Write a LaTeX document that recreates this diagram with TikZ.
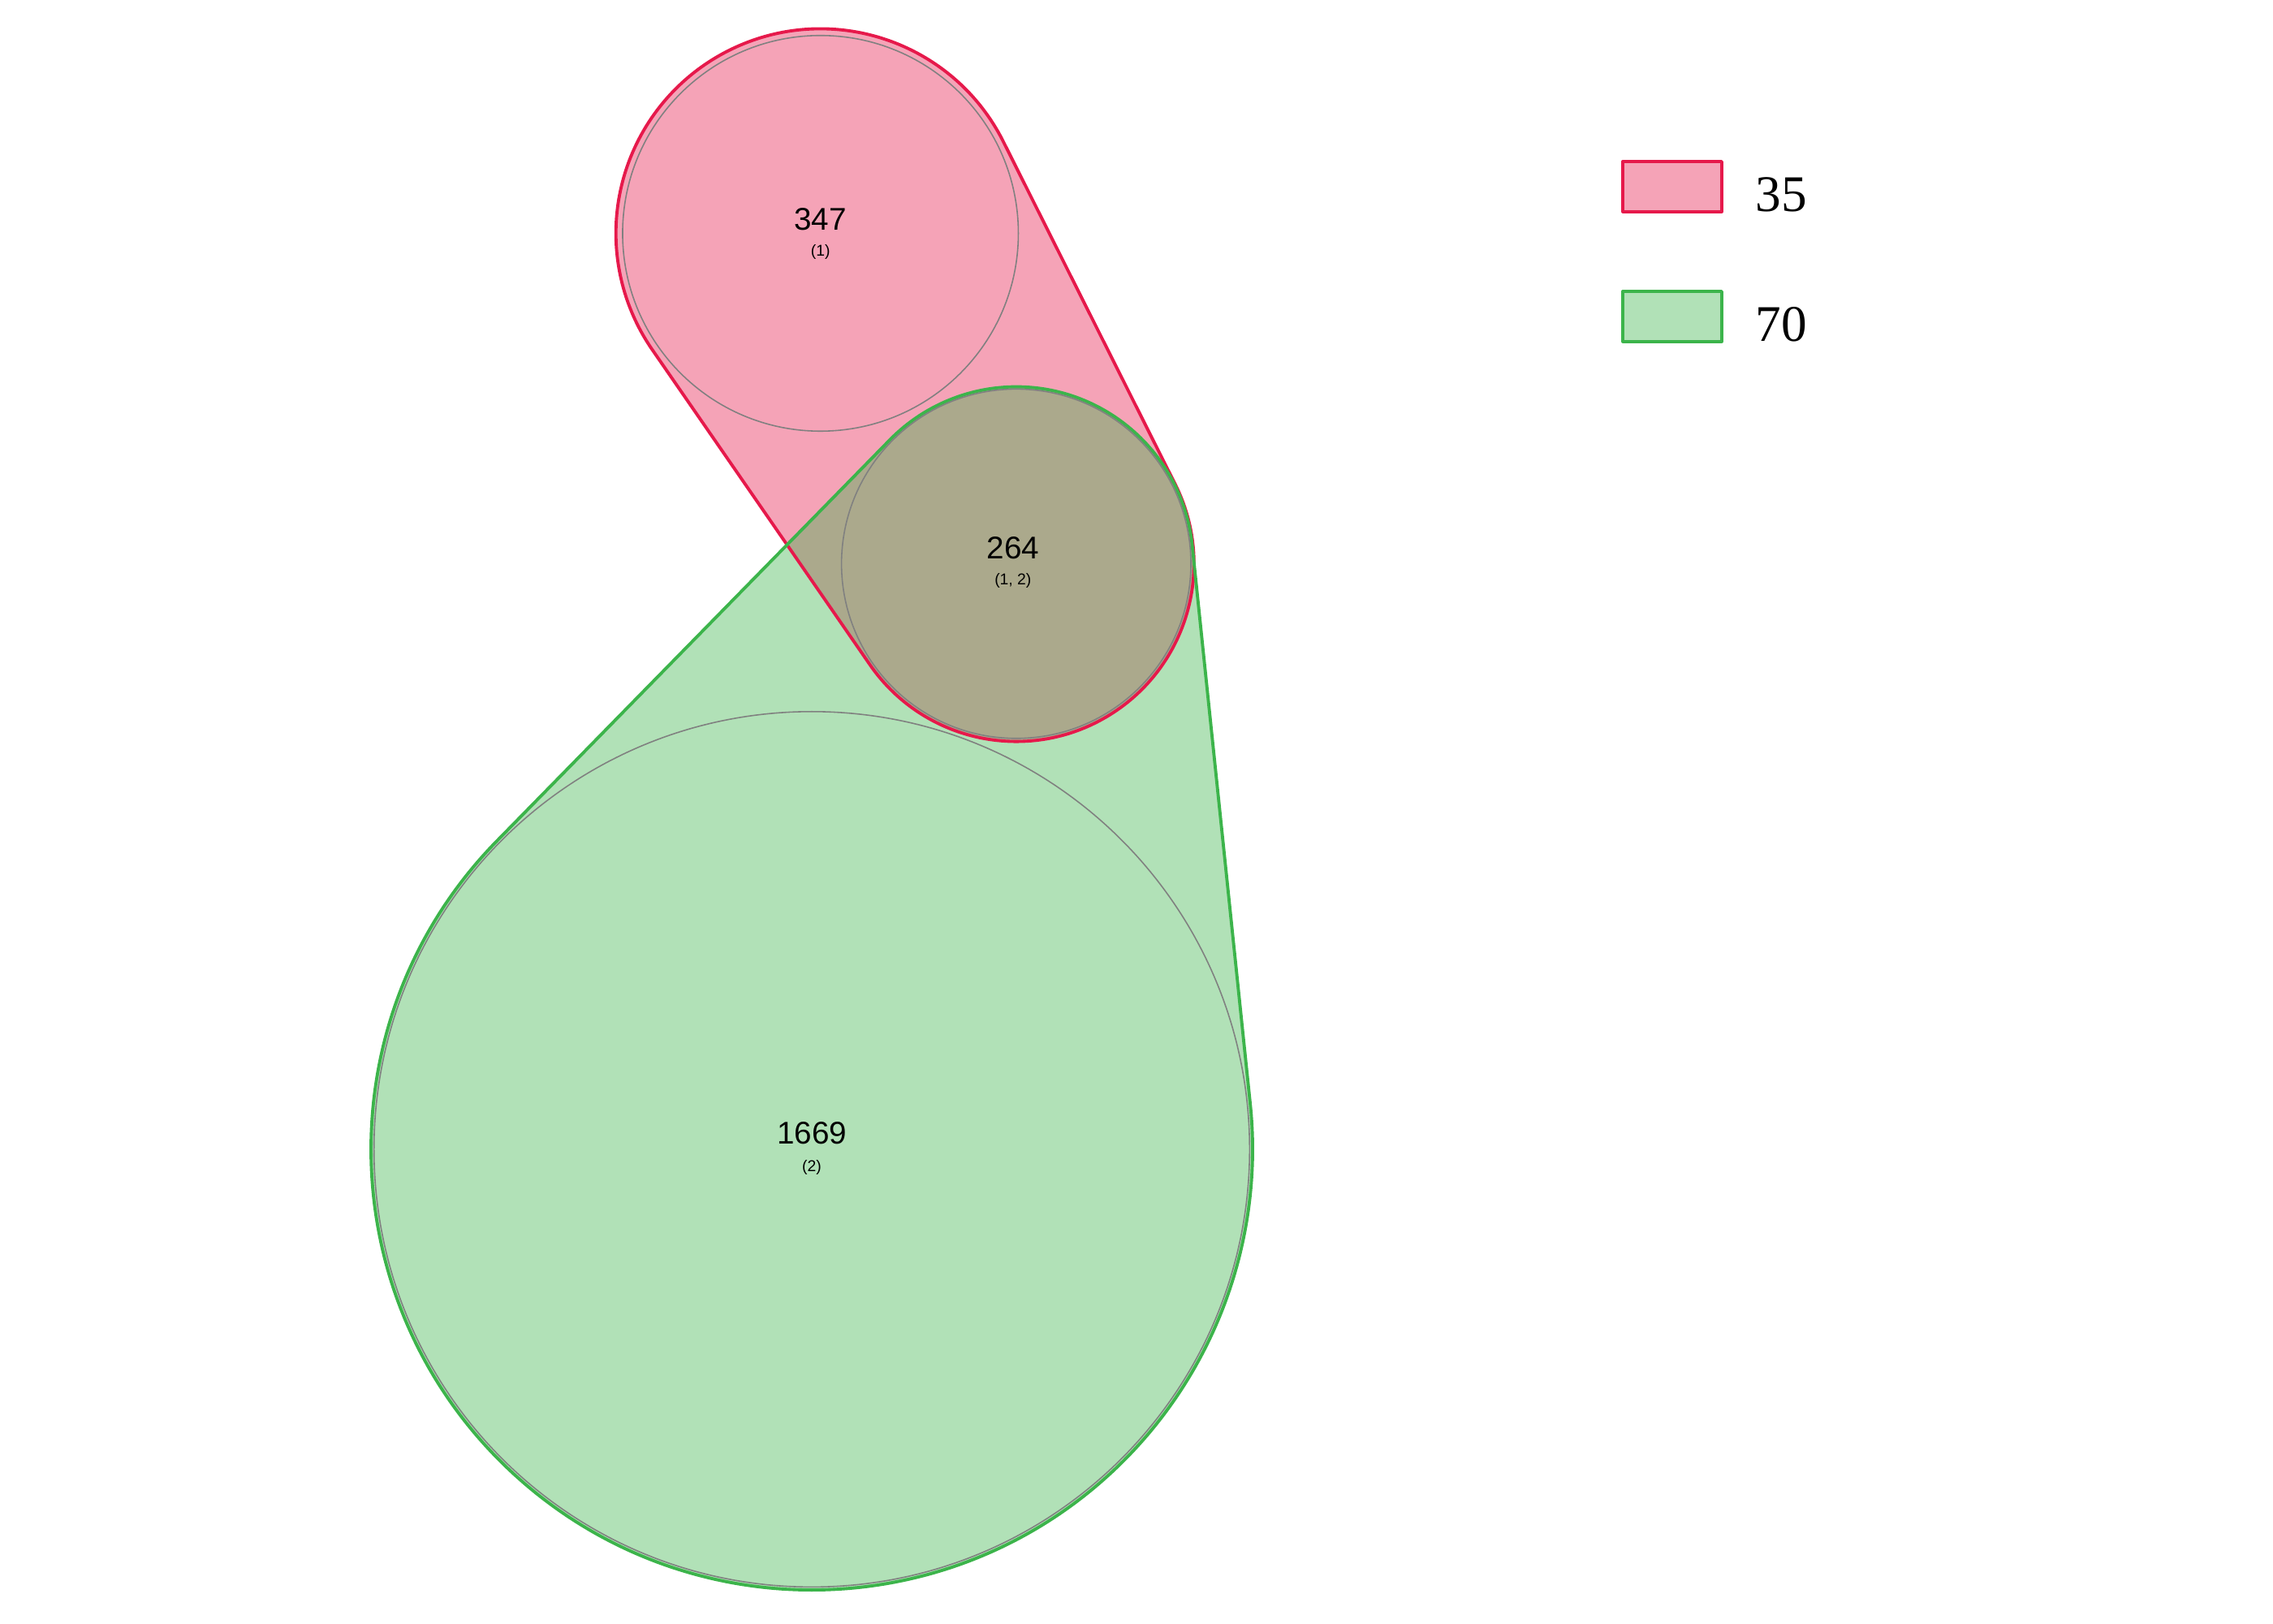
\documentclass[tikz,border=0pt]{standalone}
\usepackage{fontspec}
\setmainfont{Liberation Serif}
\newfontfamily\countfont{Liberation Sans}
\usepackage{xcolor}
\usepackage{tikz}
\usetikzlibrary{calc,positioning}

\definecolor{setred}{RGB}{230,25,75}
\definecolor{setgreen}{RGB}{60,180,75}
\definecolor{ringgray}{RGB}{128,128,128}

% outlines of the two sets (hull of their circles)
\newcommand{\hullred}{($(A)+(26.64:2.52)$)
    arc[start angle=26.64, end angle=214.64, radius=2.52]
    -- ($(AB)+(214.64:2.19)$)
    arc[start angle=214.64, end angle=386.64, radius=2.19] -- cycle}
\newcommand{\hullgreen}{($(AB)+(5.93:2.18)$)
    arc[start angle=5.93, end angle=135.59, radius=2.18]
    -- ($(B)+(135.59:5.43)$)
    arc[start angle=135.59, end angle=365.93, radius=5.43] -- cycle}

\tikzset{
  ring/.style={draw=ringgray, line width=0.45pt},
  setline/.style={line width=1.1pt, line join=round},
  countlabel/.style={font=\countfont\fontsize{11}{13}\selectfont, inner sep=0pt},
  idlabel/.style={font=\countfont\fontsize{5.5}{6.5}\selectfont, inner sep=0pt},
  keylabel/.style={font=\fontsize{18}{20}\selectfont, anchor=base west, inner sep=0pt},
  keybox/.style={line width=0.95pt}
}

\begin{document}
\begin{tikzpicture}[line cap=round, line join=round]

\useasboundingbox (0,0) rectangle (28,20);

% ---------------------------------------------------------
% Circle centres
% ---------------------------------------------------------
\coordinate (A)  at (10.107,17.125);   % only set 1
\coordinate (AB) at (12.518,13.054);   % sets 1 and 2
\coordinate (B)  at (10.000,5.839);    % only set 2

% ---------------------------------------------------------
% Filled set regions
% ---------------------------------------------------------
\path[fill=setred, fill opacity=0.4] \hullred;
\path[fill=setgreen, fill opacity=0.4] \hullgreen;

% ---------------------------------------------------------
% Set outlines
% ---------------------------------------------------------
\draw[setred, setline] \hullred;
\draw[setgreen, setline] \hullgreen;

% ---------------------------------------------------------
% Region circles
% ---------------------------------------------------------
\draw[ring] (A) circle (2.4375);
\draw[ring] (AB) circle (2.152);
\draw[ring] (B) circle (5.393);

% ---------------------------------------------------------
% Counts
% ---------------------------------------------------------
\node[countlabel] (nA)  at ($(A)+(0,0.17)$)  {347};
\node[idlabel]    (iA)  at ($(A)+(0,-0.23)$) {(1)};
\node[countlabel] (nAB) at ($(AB)+(-0.04,0.19)$) {264};
\node[idlabel]    (iAB) at ($(AB)+(-0.04,-0.21)$) {(1, 2)};
\node[countlabel] (nB)  at ($(B)+(0,0.20)$)  {1669};
\node[idlabel]    (iB)  at ($(B)+(0,-0.22)$) {(2)};

% ---------------------------------------------------------
% Legend
% ---------------------------------------------------------
\filldraw[keybox, draw=setred, fill=setred!40] (19.99,17.39) rectangle (21.21,18.01);
\filldraw[keybox, draw=setgreen, fill=setgreen!40] (19.99,15.79) rectangle (21.21,16.41);
\node[keylabel] (k1) at (21.62,17.39) {35};
\node[keylabel] (k2) at (21.62,15.79) {70};

\end{tikzpicture}
\end{document}
